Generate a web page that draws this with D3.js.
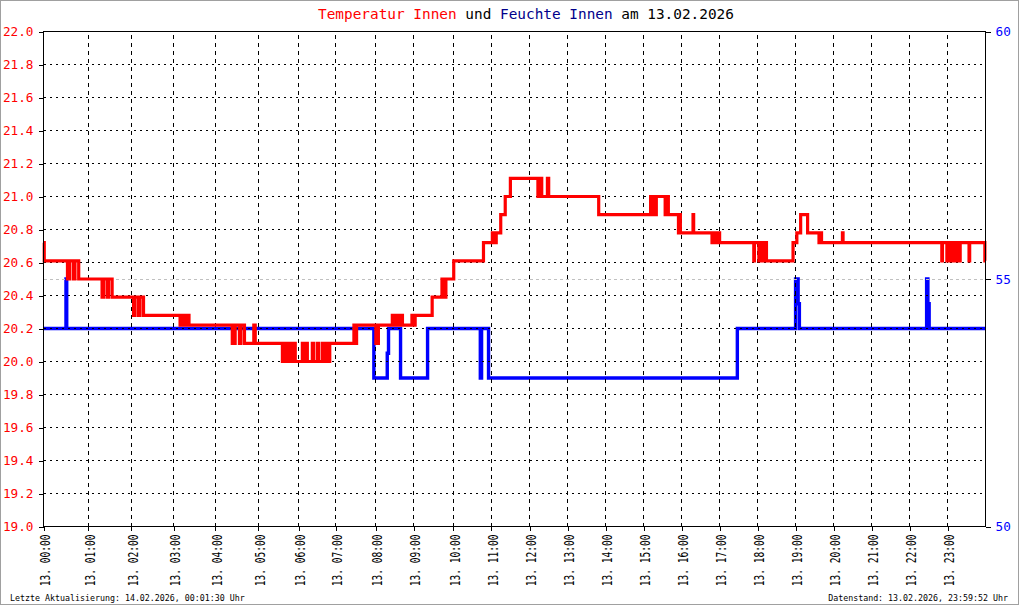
<!DOCTYPE html>
<html><head><meta charset="utf-8">
<script src="https://cdn.jsdelivr.net/npm/d3@7/dist/d3.min.js"></script>
<style>
html,body{margin:0;padding:0;background:#fff;}
svg{display:block;}
text{font-family:"DejaVu Sans Mono",monospace;}
</style>
</head><body>
<svg id="chart" width="1020" height="606"></svg>
<script>
// ---------- data ----------
const hourLabels = ["13. 00:00","13. 01:00","13. 02:00","13. 03:00","13. 04:00","13. 05:00","13. 06:00","13. 07:00",
  "13. 08:00","13. 09:00","13. 10:00","13. 11:00","13. 12:00","13. 13:00","13. 14:00","13. 15:00",
  "13. 16:00","13. 17:00","13. 18:00","13. 19:00","13. 20:00","13. 21:00","13. 22:00","13. 23:00"];
// number of logged records per hour (x axis runs over record index)
const samplesPerHour = [71,68,67,65,68,64,59,63,60,62,60,61,60,60,60,60,60,60,60,60,60,60,60,60];
const tempTicks = [19.0,19.2,19.4,19.6,19.8,20.0,20.2,20.4,20.6,20.8,21.0,21.2,21.4,21.6,21.8,22.0];
const humTicks = [50,55,60];

const tempTime = ["00:00","00:01","00:32","00:35","00:40","00:42","00:47",
 "01:19","01:21","01:26","01:28","01:33",
 "02:03","02:05","02:10","02:12","02:17",
 "03:09","03:11","03:15","03:18","03:22",
 "04:24","04:28","04:34","04:36","04:41","04:54","04:56",
 "05:36","05:39","05:43","05:46","05:49","05:52","05:55",
 "06:06","06:08","06:12","06:14","06:22","06:24","06:30","06:32","06:38","06:40","06:45","06:47","06:50",
 "07:27","07:29","07:31","08:00","08:04",
 "08:26","08:29","08:31","08:35","08:37","08:42","08:57","08:59","09:02",
 "09:28","09:43","09:45","09:49",
 "10:01","10:48","11:02","11:04","11:08","11:15","11:22","11:30",
 "12:13","12:15","12:19","12:28","12:30","13:49",
 "15:11","15:12","15:16","15:18","15:20","15:34","15:36","15:39","15:55","15:56","15:58",
 "16:18","16:19","16:48","16:50","16:54","16:56","17:00",
 "17:54","17:55","18:02","18:04","18:08","18:10","18:14","18:56",
 "19:02","19:08","19:19","19:37","19:38","19:41","20:14","20:15",
 "22:51","22:52","22:59","23:01","23:05","23:07","23:11","23:13","23:17","23:20",
 "23:34","23:35","23:59","23:59:52"];
const tempValue = [20.72,20.61,20.50,20.61,20.50,20.61,20.50,
 20.39,20.50,20.39,20.50,20.39,
 20.28,20.39,20.28,20.39,20.28,
 20.22,20.28,20.22,20.28,20.22,
 20.11,20.22,20.11,20.22,20.11,20.22,20.11,
 20.00,20.11,20.00,20.11,20.00,20.11,20.00,
 20.11,20.00,20.11,20.00,20.11,20.00,20.11,20.00,20.11,20.00,20.11,20.00,20.11,
 20.22,20.11,20.22,20.11,20.22,
 20.28,20.22,20.28,20.22,20.28,20.22,20.28,20.22,20.28,
 20.39,20.50,20.39,20.50,
 20.61,20.72,20.78,20.72,20.78,20.89,21.00,21.11,
 21.00,21.11,21.00,21.11,21.00,20.89,
 21.00,20.89,21.00,20.89,21.00,20.89,21.00,20.89,20.78,20.89,20.78,
 20.89,20.78,20.72,20.78,20.72,20.78,20.72,
 20.61,20.72,20.61,20.72,20.61,20.72,20.61,20.72,
 20.78,20.89,20.78,20.72,20.78,20.72,20.78,20.72,
 20.61,20.72,20.61,20.72,20.61,20.72,20.61,20.72,20.61,20.72,
 20.61,20.72,20.61,20.61];

const humTime = ["00:00","00:30","00:31","07:57","08:18","08:20","08:39","09:21","10:43","10:45","10:56",
 "17:28","19:00","19:04","19:06","22:27","22:29","22:31","23:59:52"];
const humValue = [54,55,54,53,53.5,54,53,54,53,54,53,54,55,54.5,54,55,54.5,54,54];

// ---------- setup ----------
const svg = d3.select("#chart");
const L = 43.5, R = 985.5, T = 31.5, B = 526.5;

const toHours = s => { const p = s.split(":").map(Number); return p[0] + p[1]/60 + (p[2]||0)/3600; };
const cumSamples = [0, ...Array.from(d3.cumsum(samplesPerHour))];
const hourToIndex = d3.scaleLinear().domain(d3.range(25)).range(cumSamples);
const x = d3.scaleLinear().domain([0, cumSamples[24]]).range([L, R]);
const xh = h => x(hourToIndex(h));
const yT = d3.scaleLinear().domain([19, 22]).range([B, T]);
const yH = d3.scaleLinear().domain([50, 60]).range([B, T]);

const tempData = tempTime.map((t,i) => ({h: toHours(t), v: tempValue[i]}));
const humData = humTime.map((t,i) => ({h: toHours(t), v: humValue[i]}));

// outer frame
svg.append("rect").attr("x",0.5).attr("y",0.5).attr("width",1018).attr("height",604)
  .attr("fill","#fff").attr("stroke","#a0a0a0");

// humidity line (below grid)
svg.append("path").datum(humData)
  .attr("d", d3.line().x(d => xh(d.h)).y(d => yH(d.v)).curve(d3.curveStepAfter))
  .attr("fill","none").attr("stroke","#0000ff").attr("stroke-width",3.4);

// grid
const grid = svg.append("g").attr("shape-rendering","crispEdges");
const snap = v => Math.round(v - 0.5) + 0.5;
grid.selectAll(".hg").data(tempTicks.filter(d => d > 19.05 && d < 21.95)).join("line")
  .attr("x1",L).attr("x2",R).attr("y1",d => snap(yT(d))).attr("y2",d => snap(yT(d)))
  .attr("stroke","#000").attr("stroke-dasharray","2,4");
grid.append("line").attr("x1",L).attr("x2",R).attr("y1",snap(yH(55))).attr("y2",snap(yH(55)))
  .attr("stroke","#c0c0c0").attr("stroke-dasharray","3,3");
grid.selectAll(".vg").data(d3.range(1,24)).join("line")
  .attr("x1",d => snap(xh(d))).attr("x2",d => snap(xh(d)))
  .attr("y1",B).attr("y2",T)
  .attr("stroke","#000").attr("stroke-dasharray","4,4");

// temperature line
svg.append("path").datum(tempData)
  .attr("d", d3.line().x(d => xh(d.h)).y(d => yT(d.v)).curve(d3.curveStepAfter))
  .attr("fill","none").attr("stroke","#ff0000").attr("stroke-width",3.2);

// frame around plot
svg.append("rect").attr("x",L).attr("y",T).attr("width",R-L).attr("height",B-T)
  .attr("fill","none").attr("stroke","#000").attr("shape-rendering","crispEdges");

// left axis
const la = svg.append("g").attr("transform",`translate(${L},0)`)
  .call(d3.axisLeft(yT).tickValues(tempTicks).tickSize(5).tickPadding(5).tickFormat(d3.format(".1f")));
la.select(".domain").remove();
la.selectAll("line").attr("stroke","#000").attr("shape-rendering","crispEdges");
la.selectAll("text").attr("fill","#ff0000").style("font-size","12.7px").style("font-family","DejaVu Sans Mono");

// right axis
const ra = svg.append("g").attr("transform",`translate(${R},0)`)
  .call(d3.axisRight(yH).tickValues(humTicks).tickSize(5).tickPadding(5).tickFormat(d3.format("d")));
ra.select(".domain").remove();
ra.selectAll("line").attr("stroke","#000").attr("shape-rendering","crispEdges");
ra.selectAll("text").attr("fill","#0000ff").style("font-size","12.7px").style("font-family","DejaVu Sans Mono");

// bottom axis (ticks + rotated labels)
const ba = svg.append("g").attr("transform",`translate(0,${B})`)
  .call(d3.axisBottom(x).tickValues(cumSamples.slice(0,24)).tickSize(4).tickFormat((d,i) => hourLabels[i]));
ba.select(".domain").remove();
ba.selectAll("line").attr("stroke","#000").attr("shape-rendering","crispEdges");
ba.selectAll("text")
  .attr("transform","translate(6,8) rotate(-90)")
  .attr("x",0).attr("y",0).attr("dy",0)
  .attr("text-anchor","end")
  .attr("fill","#000")
  .attr("textLength",51.7).attr("lengthAdjust","spacingAndGlyphs")
  .style("font-size","13.5px").style("font-family","DejaVu Sans Mono");

// title
const title = svg.append("text").attr("x",526).attr("y",19).attr("text-anchor","middle")
  .style("font-size","14.4px");
title.append("tspan").attr("fill","#ff0000").text("Temperatur Innen");
title.append("tspan").attr("fill","#000").text(" und ");
title.append("tspan").attr("fill","#00008b").text("Feuchte Innen");
title.append("tspan").attr("fill","#000").text(" am 13.02.2026");

// footer
svg.append("text").attr("x",10).attr("y",601).style("font-size","8.3px").attr("fill","#000")
  .text("Letzte Aktualisierung: 14.02.2026, 00:01:30 Uhr");
svg.append("text").attr("x",1008).attr("y",601).attr("text-anchor","end").style("font-size","8.3px").attr("fill","#000")
  .text("Datenstand: 13.02.2026, 23:59:52 Uhr");
</script>
</body></html>
